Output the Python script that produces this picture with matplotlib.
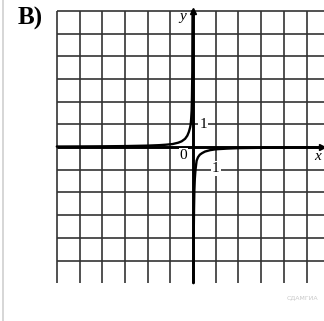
import matplotlib
matplotlib.use("Agg")
import matplotlib.pyplot as plt

# ---- data ----
grid_x = [-6, -5, -4, -3, -2, -1, 1, 2, 3, 4, 5, 6]
grid_y = [-5, -4, -3, -2, -1, 1, 2, 3, 4, 5, 6]

left_x = [-6, -5, -4, -3, -2, -1.5, -1.2, -0.9, -0.65, -0.5, -0.35, -0.25,
          -0.18, -0.13, -0.1, -0.08, -0.06, -0.045, -0.03, -0.02]
left_y = [0.02, 0.024, 0.03, 0.04, 0.06, 0.08, 0.1, 0.13, 0.19, 0.25, 0.36, 0.5,
          0.67, 0.85, 1.0, 1.25, 1.6, 2.2, 3.3, 6.0]

right_x = [0.02, 0.03, 0.045, 0.06, 0.08, 0.11, 0.16, 0.22, 0.3, 0.4, 0.53,
           0.75, 1.0, 1.5, 2, 3, 4, 5, 6]
right_y = [-6.0, -4.0, -2.7, -1.9, -1.4, -1.0, -0.6, -0.45, -0.34, -0.27, -0.2,
           -0.14, -0.1, -0.07, -0.05, -0.035, -0.025, -0.02, -0.017]

panel_label = "В)"
watermark = "СДАМГИА"

# ---- figure ----
W, H, DPI = 324, 321, 100
fig = plt.figure(figsize=(W / DPI, H / DPI), dpi=DPI)
ax = fig.add_axes([0, 0, 1, 1])
u = 22.7  # pixels per unit
ox, oy = 193, 147  # origin pixel
ax.set_xlim(-ox / u, (W - ox) / u)
ax.set_ylim(-(H - oy) / u, oy / u)
ax.axis("off")

gc = "#333333"
glw = 1.2
ax.vlines(grid_x, -6, 6, colors=gc, linewidths=glw, zorder=1)
ax.hlines(grid_y, -6, 7, colors=gc, linewidths=glw, zorder=1)

# axes
ax.plot([-6, 7], [0, 0], color="black", lw=2.1, zorder=3, solid_capstyle="butt")
ax.plot([0, 0], [-6, 6], color="black", lw=2.1, zorder=3, solid_capstyle="butt")
ax.plot([0], [6], marker="^", color="black", ms=4, zorder=4)
ax.plot([(W - ox) / u - 0.08], [0], marker=">", color="black", ms=4, zorder=4)

# curve
ax.plot(left_x, left_y, color="black", lw=1.7, zorder=5, solid_capstyle="round")
ax.plot(right_x, right_y, color="black", lw=1.7, zorder=5, solid_capstyle="round")

serif = "Liberation Serif"
bb = dict(facecolor="white", edgecolor="none", pad=0.8)
ax.text(0.45, 1.0, "1", family=serif, fontsize=11, ha="center", va="center",
        bbox=bb, zorder=6)
ax.text(1.0, -0.95, "1", family=serif, fontsize=11, ha="center", va="center",
        bbox=bb, zorder=6)
ax.text(-0.42, -0.38, "0", family=serif, fontsize=11, ha="center", va="center",
        bbox=bb, zorder=6)
ax.text(-0.45, 5.75, "y", family=serif, style="italic", fontsize=11,
        ha="center", va="center", zorder=6)
ax.text(5.5, -0.42, "x", family=serif, style="italic", fontsize=11,
        ha="center", va="center", zorder=6)

fig.text(30 / W, 1 - 18 / H, panel_label, family=serif, weight="bold",
         fontsize=18, ha="center", va="center")
fig.text(302 / W, 1 - 298 / H, watermark, family="DejaVu Sans", fontsize=4.5,
         color="#c8c8c8", ha="center", va="center")
fig.add_artist(plt.Line2D([2.5 / W, 2.5 / W], [0, 1], color="#d0d0d0", lw=1.2))

fig.savefig("out.png", dpi=DPI, facecolor="white")
